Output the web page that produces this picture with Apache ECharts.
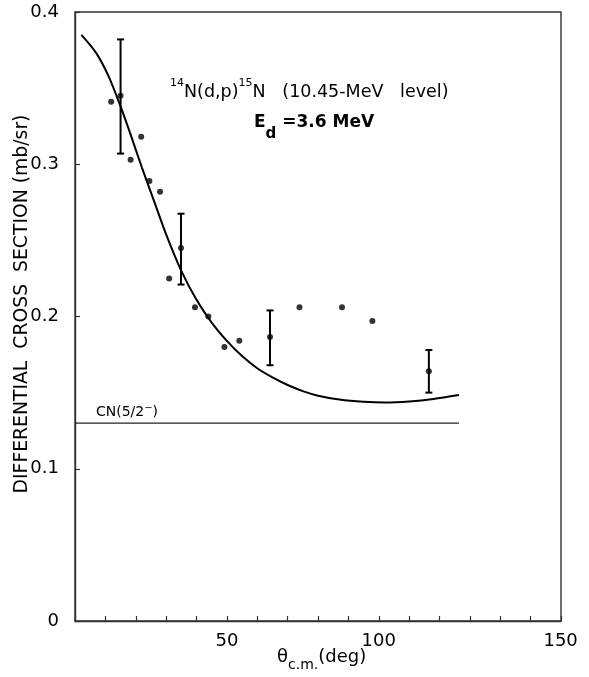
<!DOCTYPE html>
<html>
<head>
<meta charset="utf-8">
<script src="https://cdn.jsdelivr.net/npm/echarts@6/dist/echarts.min.js"></script>
<style>
  html, body { margin: 0; padding: 0; background: #fff; }
  #chart { width: 589px; height: 677px; }
</style>
</head>
<body>
<div id="chart"></div>
<script>
// Measured points without error bars: c.m. angle (deg) and cross section (mb/sr)
const dotAngles = [11.9, 18.3, 21.8, 24.5, 28.0, 31.0, 39.5, 43.9, 49.2, 54.1, 73.9, 87.9, 97.9];
const dotValues = [0.341, 0.303, 0.318, 0.289, 0.282, 0.225, 0.206, 0.200, 0.180, 0.184, 0.206, 0.206, 0.197];

// Points shown with error bars
const barAngles = [15.0, 34.9, 64.2, 116.5];
const barValues = [0.345, 0.245, 0.1865, 0.164];
const barLow    = [0.307, 0.221, 0.168, 0.150];
const barHigh   = [0.382, 0.2675, 0.204, 0.178];

// Theoretical curve
const curveAngles = [2.1, 7, 11, 15, 18.4, 22, 26, 30, 35, 40, 45, 50, 55, 60, 65, 70, 75, 80, 87, 95, 102, 110, 118, 126.4];
const curveValues = [0.385, 0.373, 0.358, 0.338, 0.319, 0.298, 0.276, 0.254, 0.230, 0.211, 0.196, 0.184, 0.174, 0.166, 0.160, 0.155, 0.151, 0.148, 0.1455, 0.1440, 0.1435, 0.1442, 0.1458, 0.1484];

// Compound-nucleus (5/2-) level
const cnLevel = 0.13;
const cnAngles = [0, 126.4];

// Axis ticks and labels
const xTickLabels = [50, 100, 150];
const yTickLabels = [0, 0.1, 0.2, 0.3, 0.4];

const FONT = 'DejaVu Sans';
const INK = '#000';

const chart = echarts.init(document.getElementById('chart'), null, { renderer: 'canvas' });

const option = {
  backgroundColor: '#fff',
  animation: false,
  grid: {
    left: 75, right: 28, top: 12, bottom: 56,
    show: true, borderColor: '#333', borderWidth: 1.4, backgroundColor: 'transparent'
  },
  xAxis: {
    type: 'value', min: 0, max: 160, interval: 10,
    splitLine: { show: false },
    axisLine: { lineStyle: { color: '#333', width: 1.4 } },
    axisTick: { inside: true, length: 5, lineStyle: { color: '#333', width: 1.2 } },
    axisLabel: {
      margin: 11,
      color: INK, fontFamily: FONT, fontSize: 18,
      formatter: function (v) {
        if (v === 150) return '{far|150}';
        return xTickLabels.indexOf(v) >= 0 ? String(v) : '';
      },
      rich: { far: { fontFamily: FONT, fontSize: 18, color: INK, padding: [0, 0, 0, 60] } }
    }
  },
  yAxis: {
    type: 'value', min: 0, max: 0.4, interval: 0.1,
    splitLine: { show: false },
    axisLine: { lineStyle: { color: '#333', width: 1.4 } },
    axisTick: { inside: true, length: 5, lineStyle: { color: '#333', width: 1.2 } },
    axisLabel: {
      margin: 16,
      color: INK, fontFamily: FONT, fontSize: 18,
      formatter: function (v) {
        const hit = yTickLabels.find(t => Math.abs(t - v) < 1e-9);
        if (hit === undefined) return '';
        return hit === 0 ? '0' : hit.toFixed(1);
      }
    }
  },
  graphic: [
    {
      type: 'text', left: 170, top: 77,
      style: {
        text: '{sup|14}{m|N(d,p)}{sup|15}{m|N   (10.45-MeV   level)}',
        rich: {
          m: { fontFamily: FONT, fontSize: 17.5, fill: INK, lineHeight: 24, verticalAlign: 'bottom' },
          sup: { fontFamily: FONT, fontSize: 11, fill: INK, lineHeight: 24, verticalAlign: 'top', padding: [1, 0, 0, 0] }
        }
      }
    },
    {
      type: 'text', left: 254, top: 114,
      style: {
        text: '{e|E}{sub|d}{e| =3.6 MeV}',
        rich: {
          e: { fontFamily: FONT, fontSize: 17, fontWeight: 'bold', fill: INK, lineHeight: 28, verticalAlign: 'top' },
          sub: { fontFamily: FONT, fontSize: 15, fontWeight: 'bold', fill: INK, lineHeight: 28, verticalAlign: 'bottom' }
        }
      }
    },
    {
      type: 'text', x: 22, y: 304, rotation: Math.PI / 2,
      style: {
        text: 'DIFFERENTIAL  CROSS  SECTION (mb/sr)',
        fontFamily: FONT, fontSize: 18.8, fill: INK,
        align: 'center', verticalAlign: 'middle'
      }
    },
    {
      type: 'text', left: 277, top: 648,
      style: {
        text: '{t|θ}{sub|c.m.}{u|(deg)}',
        rich: {
          t: { fontFamily: FONT, fontSize: 18, fill: INK, lineHeight: 24, verticalAlign: 'top' },
          u: { fontFamily: FONT, fontSize: 18, fill: INK, lineHeight: 24, verticalAlign: 'top', padding: [0, 0, 2, 0] },
          sub: { fontFamily: FONT, fontSize: 14, fill: INK, lineHeight: 24, verticalAlign: 'bottom' }
        }
      }
    },
    {
      type: 'text', left: 96, top: 403,
      style: {
        text: '{m|CN(5/2}{sup|−}{m|)}',
        rich: {
          m: { fontFamily: FONT, fontSize: 14, fill: INK, lineHeight: 16, verticalAlign: 'bottom' },
          sup: { fontFamily: FONT, fontSize: 10, fill: INK, lineHeight: 16, verticalAlign: 'top' }
        }
      }
    }
  ],
  series: [
    {
      name: 'curve', type: 'line', smooth: 0.3, symbol: 'none',
      lineStyle: { color: INK, width: 2 },
      data: curveAngles.map((a, i) => [a, curveValues[i]]),
      z: 3
    },
    {
      name: 'CN', type: 'line', symbol: 'none',
      lineStyle: { color: '#222', width: 1.4 },
      data: cnAngles.map(a => [a, cnLevel]),
      z: 3
    },
    {
      name: 'points', type: 'scatter', symbol: 'circle', symbolSize: 6,
      itemStyle: { color: INK },
      data: dotAngles.map((a, i) => [a, dotValues[i]])
        .concat(barAngles.map((a, i) => [a, barValues[i]])),
      z: 5
    },
    {
      name: 'errors', type: 'custom',
      data: barAngles.map((a, i) => [a, barLow[i], barHigh[i]]),
      renderItem: function (params, api) {
        const x = api.value(0);
        const lo = api.coord([x, api.value(1)]);
        const hi = api.coord([x, api.value(2)]);
        const cap = 3.5;
        const st = { stroke: INK, lineWidth: 2 };
        return {
          type: 'group',
          children: [
            { type: 'line', shape: { x1: lo[0], y1: lo[1], x2: hi[0], y2: hi[1] }, style: st },
            { type: 'line', shape: { x1: lo[0] - cap, y1: lo[1], x2: lo[0] + cap, y2: lo[1] }, style: st },
            { type: 'line', shape: { x1: hi[0] - cap, y1: hi[1], x2: hi[0] + cap, y2: hi[1] }, style: st }
          ]
        };
      },
      z: 4
    }
  ]
};

chart.setOption(option);
</script>
</body>
</html>
